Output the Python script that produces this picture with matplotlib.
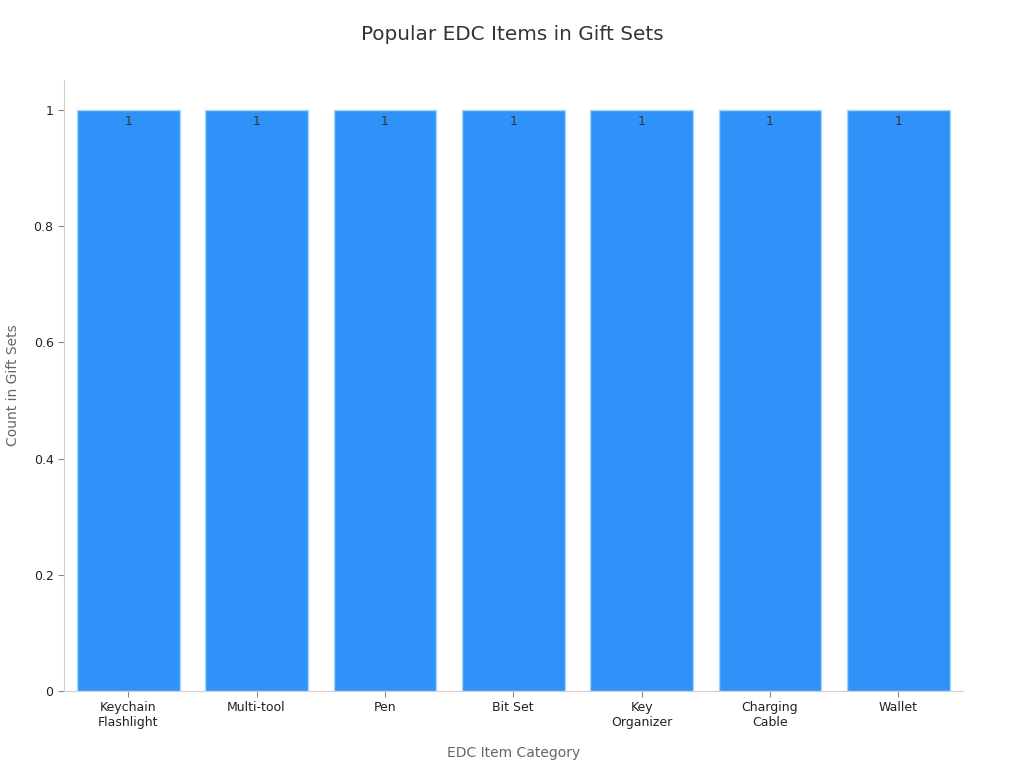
import matplotlib.pyplot as plt
import numpy as np

# data
categories = ['Keychain\nFlashlight', 'Multi-tool', 'Pen', 'Bit Set', 'Key\nOrganizer', 'Charging\nCable', 'Wallet']
counts = [1, 1, 1, 1, 1, 1, 1]

fig = plt.figure(figsize=(10.24, 7.68), dpi=100)
ax = fig.add_axes([0.0625, 0.1003, 0.8775, 0.7957])

x = np.arange(len(categories))
bars = ax.bar(x, counts, width=0.8, color='#3092F8', edgecolor='#A8D4FB', linewidth=1)

# value labels inside top of bars
for b, v in zip(bars, counts):
    ax.text(b.get_x() + b.get_width() / 2, v - 0.008, str(v), ha='center', va='top',
            fontsize=9, color='#333333')

ax.set_xlim(-0.5, len(categories) - 0.5)
ax.set_ylim(0, 1.052)
ax.set_xticks(x)
ax.set_xticklabels(categories, fontsize=9, color='#222222')
ax.set_yticks([0, 0.2, 0.4, 0.6, 0.8, 1])
ax.set_yticklabels(['0', '0.2', '0.4', '0.6', '0.8', '1'], fontsize=9, color='#222222')
ax.tick_params(colors='#888888', labelcolor='#222222', length=4)

for s in ['top', 'right']:
    ax.spines[s].set_visible(False)
for s in ['left', 'bottom']:
    ax.spines[s].set_color('#D0D0D0')

ax.set_xlabel('EDC Item Category', fontsize=10, color='#666666', labelpad=12)
ax.set_ylabel('Count in Gift Sets', fontsize=10, color='#666666', labelpad=10)
fig.suptitle('Popular EDC Items in Gift Sets', fontsize=14.4, color='#333333', y=0.968)

fig.savefig('out.png', dpi=100)
